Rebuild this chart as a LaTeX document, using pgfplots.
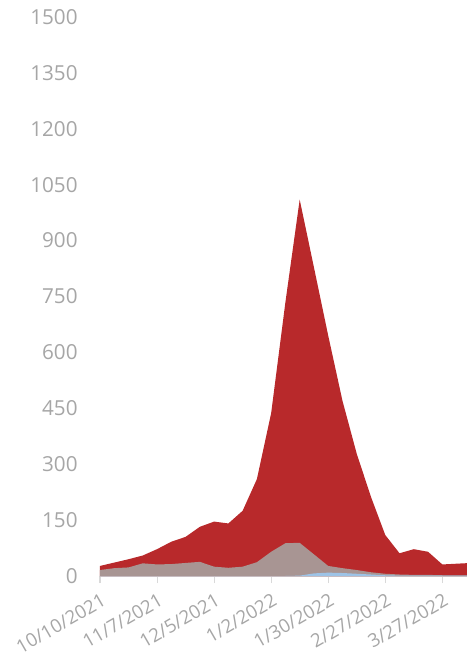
\documentclass[border=0pt]{standalone}
\usepackage{fontspec}
\setmainfont{Open Sans}
\usepackage{pgfplots}
\pgfplotsset{compat=1.18}
\definecolor{redA}{HTML}{B8292B}
\definecolor{grayA}{HTML}{A89593}
\definecolor{blueA}{HTML}{9DC3E6}
\definecolor{labelgray}{HTML}{A6A6A6}
\definecolor{axisgray}{HTML}{D9D9D9}
\begin{document}
\begin{tikzpicture}
\begin{axis}[
    at={(0,0)}, anchor=south west,
    scale only axis,
    width=275.25pt, height=419.25pt,
    xmin=0, xmax=25.73,
    ymin=0, ymax=1500,
    axis x line*=bottom,
    axis y line*=left,
    x axis line style={color=axisgray, line width=0.8pt},
    y axis line style={draw=none},
    ytick={0,150,...,1500},
    ytick style={draw=none},
    xtick={0,4,...,24},
    xticklabels={10/10/2021,11/7/2021,12/5/2021,1/2/2022,1/30/2022,2/27/2022,3/27/2022},
    xtick style={color=axisgray, line width=0.8pt},
    tick align=outside,
    major tick length=5.25pt,
    tick label style={color=labelgray},
    yticklabel style={xshift=-8pt, font=\fontsize{15.5}{16}\selectfont},
    xticklabel style={rotate=30, anchor=north east, yshift=-3pt, font=\fontsize{14}{15}\selectfont},
    /pgf/number format/assume math mode=true,
    /pgf/number format/1000 sep={},
    scaled y ticks=false,
]
% total (red)
\addplot[draw=none, fill=redA] coordinates {
 (0,27) (1,36) (2,45) (3,55) (4,72) (5,92) (6,105) (7,132) (8,146) (9,141)
 (10,175) (11,260) (12,437) (13,735) (14,1010) (15,828) (16,645) (17,470)
 (18,328) (19,212) (20,110) (21,61) (22,72) (23,65) (24,31) (25,33) (26,35)
} \closedcycle;
% gray series
\addplot[draw=none, fill=grayA] coordinates {
 (0,16) (1,21) (2,23) (3,34) (4,31) (5,32) (6,35) (7,38) (8,25) (9,22)
 (10,25) (11,37) (12,65) (13,88) (14,89) (15,58) (16,27) (17,21)
 (18,16) (19,10) (20,6) (21,4) (22,3) (23,3) (24,2) (25,2) (26,2)
} \closedcycle;
% blue series
\addplot[draw=none, fill=blueA] coordinates {
 (0,0) (1,0) (2,0) (3,0) (4,0) (5,0) (6,0) (7,0) (8,0) (9,0)
 (10,0) (11,0) (12,0) (13,0) (14,1) (15,7) (16,9) (17,8)
 (18,6) (19,4) (20,2) (21,1) (22,1) (23,1) (24,1) (25,1) (26,1)
} \closedcycle;
\end{axis}
\pgfresetboundingbox
\path (-75pt,-60.75pt) rectangle (275.25pt,432pt);
\end{tikzpicture}
\end{document}
